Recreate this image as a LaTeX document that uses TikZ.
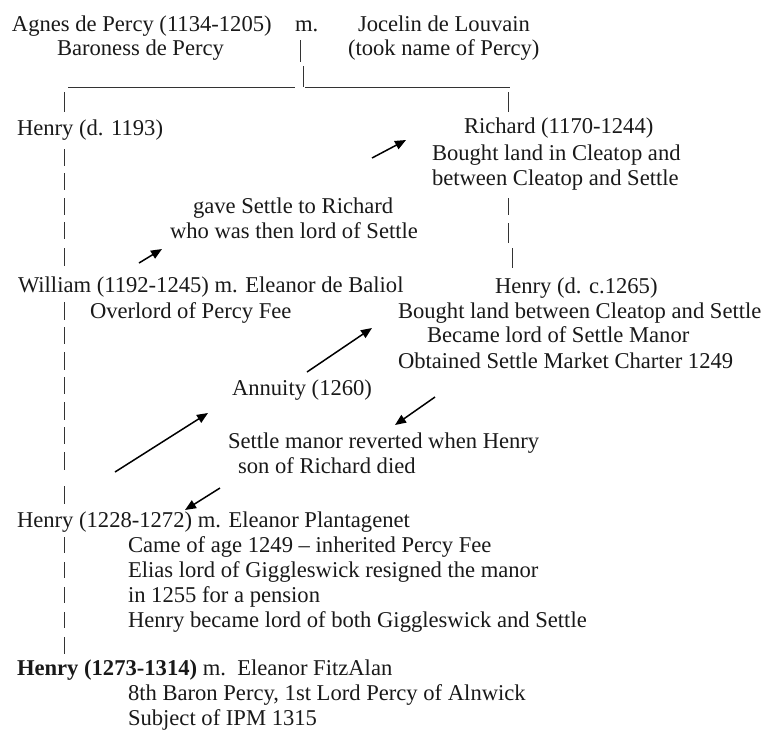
\documentclass[tikz,border=0pt]{standalone}
\usepackage{fontspec}
\setmainfont{Liberation Serif}
\usetikzlibrary{arrows.meta}
\begin{document}
\begin{tikzpicture}[x=1pt,y=-1pt,
  tx/.style={anchor=base west,inner sep=0pt,outer sep=0pt,text=black!90,font=\fontsize{22.6}{26}\selectfont},
  pipe/.style={draw=black!80,line width=1pt},
  rule/.style={draw=black!80,line width=1pt},
  arr/.style={draw=black,line width=1.5pt,-{Triangle[length=11pt,width=9pt]}}]
\useasboundingbox (0,0) rectangle (775,740);
% texts
\node[tx] (agnes) at (12,31) {Agnes de Percy (1134-1205)};
\node[tx] (m1) at (295,31) {m.};
\node[tx] (jocelin) at (358,31) {Jocelin de Louvain};
\node[tx] (baroness) at (57,55) {Baroness de Percy};
\node[tx] (took) at (348,55) {(took name of Percy)};
\node[tx] (henryA) at (17,135) {Henry (d. 1193)};
\node[tx] (richard) at (464,133) {Richard (1170-1244)};
\node[tx] (boughtA) at (432,160) {Bought land in Cleatop and};
\node[tx] (between) at (432,185) {between Cleatop and Settle};
\node[tx] (gave) at (193,213) {gave Settle to Richard};
\node[tx] (who) at (170,238) {who was then lord of Settle};
\node[tx] (william) at (18,292) {William (1192-1245) m. Eleanor de Baliol};
\node[tx] (overlord) at (90,318) {Overlord of Percy Fee};
\node[tx] (henryB) at (495,293) {Henry (d. c.1265)};
\node[tx] (boughtB) at (398,318) {Bought land between Cleatop and Settle};
\node[tx] (became) at (427,342) {Became lord of Settle Manor};
\node[tx] (obtained) at (398,368) {Obtained Settle Market Charter 1249};
\node[tx] (annuity) at (232,395) {Annuity (1260)};
\node[tx] (reverted) at (228,448) {Settle manor reverted when Henry};
\node[tx] (son) at (238,473) {son of Richard died};
\node[tx] (henryC) at (17,527) {Henry (1228-1272) m. Eleanor Plantagenet};
\node[tx] (came) at (128,552) {Came of age 1249 – inherited Percy Fee};
\node[tx] (elias) at (128,577) {Elias lord of Giggleswick resigned the manor};
\node[tx] (in1255) at (128,602) {in 1255 for a pension};
\node[tx] (henrybecame) at (128,627) {Henry became lord of both Giggleswick and Settle};
\node[tx] (henryD) at (17,675) {\textbf{Henry (1273-1314)} m.\ \ Eleanor FitzAlan};
\node[tx] (eighth) at (128,700) {8th Baron Percy, 1st Lord Percy of Alnwick};
\node[tx] (subject) at (128,725) {Subject of IPM 1315};
% marriage bar and sibling line
\draw[pipe] (300,40) -- (300,62);
\draw[pipe] (303,66) -- (303,87);
\draw[rule] (68,87) -- (295,87);
\draw[rule] (305,87) -- (510,87);
\draw[pipe] (64,92) -- (64,112);
\draw[pipe] (508,92) -- (508,112);
% left column pipes
\foreach \a/\b in {149/166,173/190,198/215,222/239,248/266,
                   302/320,327/344,352/370,377/394,402/420,427/444,452/470,486/504,
                   537/553,562/578,587/603,612/628,637/654}
  \draw[pipe] (64,\a) -- (64,\b);
% right column pipes
\draw[pipe] (508,198) -- (508,215);
\draw[pipe] (508,223) -- (508,243);
\draw[pipe] (512,248) -- (512,268);
% arrows
\coordinate (a1s) at (372,158); \coordinate (a1e) at (406,140);
\coordinate (a2s) at (139,263); \coordinate (a2e) at (162,249);
\coordinate (a3s) at (307,372); \coordinate (a3e) at (372,328);
\coordinate (a4s) at (115,472); \coordinate (a4e) at (208,413);
\coordinate (a5s) at (435,397); \coordinate (a5e) at (395,425);
\coordinate (a6s) at (220,488); \coordinate (a6e) at (185,510);
\draw[arr] (a1s) -- (a1e);
\draw[arr] (a2s) -- (a2e);
\draw[arr] (a3s) -- (a3e);
\draw[arr] (a4s) -- (a4e);
\draw[arr] (a5s) -- (a5e);
\draw[arr] (a6s) -- (a6e);
\end{tikzpicture}
\end{document}
